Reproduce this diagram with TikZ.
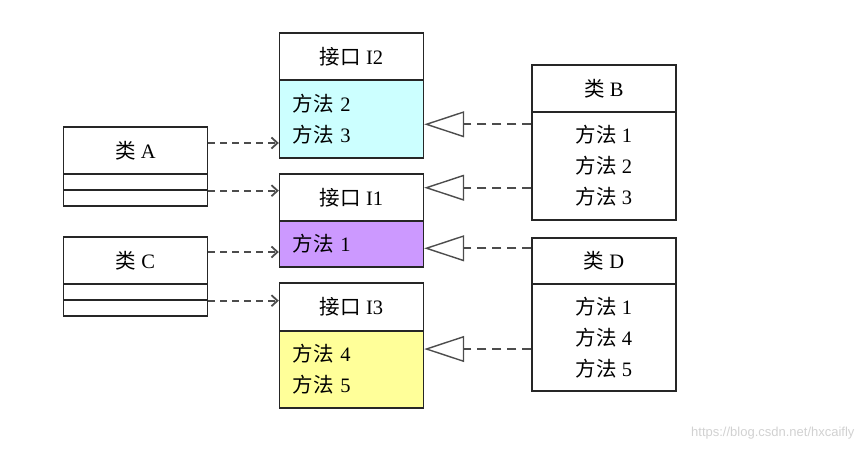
\documentclass[tikz,border=0pt]{standalone}
\usepackage{fontspec}
\setmainfont{Liberation Serif}
\newfontfamily\cjk{Noto Sans CJK SC}
\newfontfamily\wmfont{Liberation Sans}
\usetikzlibrary{arrows.meta}
\definecolor{ifcyan}{HTML}{CCFFFF}
\definecolor{ifpurple}{HTML}{CC99FF}
\definecolor{ifyellow}{HTML}{FFFF99}
\newcommand{\fa}{{\cjk 方法}}
\newcommand{\jk}{{\cjk 接口}}
\newcommand{\lei}{{\cjk 类}}
\tikzset{
  box/.style={draw=black!85, line width=1.4pt, minimum width=144pt, inner sep=0pt,
    font=\fontsize{20.5}{31}\selectfont},
  head/.style={box, minimum height=47pt},
  slot/.style={box, minimum height=16pt},
  ops/.style={box, text width=118pt, align=left},
  cops/.style={box, align=center},
  uses/.style={draw=black!70, dash pattern=on 7pt off 5pt, line width=1.8pt,
    -{Straight Barb[length=6pt,width=11pt]}},
  impl/.style={draw=black!70, dash pattern=on 9pt off 6pt, line width=1.8pt,
    -{Triangle[open,length=40pt,width=26pt,line width=1.4pt]}}
}
\begin{document}
\begin{tikzpicture}[x=1pt,y=-1pt]
  \useasboundingbox (0,0) rectangle (867,451);
  % interfaces
  \node[head] (i2h) at (351.5,56.5) {\jk{} I2};
  \node[ops, fill=ifcyan, minimum height=78pt] (i2b) at (351.5,119) {\fa{} 2\\\fa{} 3};
  \node[head] (i1h) at (351.5,197.5) {\jk{} I1};
  \node[ops, fill=ifpurple, minimum height=46pt] (i1b) at (351.5,244) {\fa{} 1};
  \node[head, minimum height=48pt] (i3h) at (351.5,307) {\jk{} I3};
  \node[ops, fill=ifyellow, minimum height=77pt] (i3b) at (351.5,369.5) {\fa{} 4\\\fa{} 5};
  % clients
  \node[head] (ah) at (135.5,150.5) {\lei{} A};
  \node[slot] (a1) at (135.5,182) {};
  \node[slot] (a2) at (135.5,198) {};
  \node[head] (ch) at (135.5,260.5) {\lei{} C};
  \node[slot] (c1) at (135.5,292) {};
  \node[slot] (c2) at (135.5,308) {};
  % implementations
  \node[head] (bh) at (604,88.5) {\lei{} B};
  \node[cops, minimum height=108pt] (bb) at (604,166) {\fa{} 1\\\fa{} 2\\\fa{} 3};
  \node[head, minimum height=46pt] (dh) at (604,261) {\lei{} D};
  \node[cops, minimum height=107pt] (db) at (604,337.5) {\fa{} 1\\\fa{} 4\\\fa{} 5};

  \coordinate (pa) at ([yshift=7.5pt]ah.east);
  \coordinate (pc) at ([yshift=8.5pt]ch.east);
  \draw[uses] (pa) -- (pa -| i2b.west);
  \draw[uses] (a1.south east) -- (a1.south east -| i1h.west);
  \draw[uses] (pc) -- (pc -| i1h.west);
  \draw[uses] (c1.south east) -- (c1.south east -| i3h.west);

  \coordinate (pb1) at ([yshift=-13pt]bb.north west);
  \coordinate (pb2) at ([yshift=33pt]bb.south west);
  \coordinate (pd1) at ([yshift=-11pt]dh.north west);
  \coordinate (pd2) at ([yshift=-11.5pt]db.west);
  \draw[impl] (pb1) -- (pb1 -| i2b.east);
  \draw[impl] (pb2) -- (pb2 -| i1h.east);
  \draw[impl] (pd1) -- (pd1 -| i1b.east);
  \draw[impl] (pd2) -- (pd2 -| i3b.east);

  \node[font=\wmfont\fontsize{13}{15}\selectfont, text=black!18, anchor=east] (wm)
    at (858,433) {https://blog.csdn.net/hxcaifly};
\end{tikzpicture}
\end{document}
